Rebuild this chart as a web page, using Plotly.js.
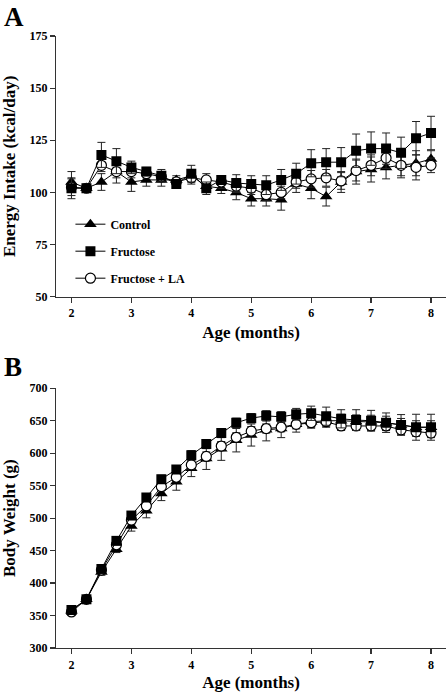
<!DOCTYPE html>
<html>
<head>
<meta charset="utf-8">
<script src="https://cdn.plot.ly/plotly-3.0.1.min.js"></script>
<style>html,body{margin:0;padding:0;background:#fff;}#chart{width:448px;height:692px;}</style>
</head>
<body>
<div id="chart"></div>
<script>
// Age in months
const ages = [2,2.25,2.5,2.75,3,3.25,3.5,3.75,4,4.25,4.5,4.75,5,5.25,5.5,5.75,6,6.25,6.5,6.75,7,7.25,7.5,7.75,8];

// Panel A: Energy intake (kcal/day)
const intakeControl  = [105,102,105,110,105,106,106,106,108,103,102,100,97,97,96.5,104,102,98,105,110,111,112,113,114,116];
const intakeControlErr = [5,1,4,5.5,4.5,3,3,2,3,3,2.5,3.5,3.5,3.5,5,4,5,4.5,5,6,6,5.5,6,6,4];
const intakeFructose = [102,102,118,115,112,110,108,104,109,102,106,104.5,104,103.5,106,109,114,114.5,114.5,120,121,121,119,126,128.5];
const intakeFructoseErr = [5,2,6,6,3,2,3,2,4,3,2,4,4,4.5,5,5,6.5,6.5,7,8,8,7.5,7.5,8,8];
const intakeLA       = [102.5,102,113,110,110,109,107.5,105,107,106,105,103,102,99,100,105,106.5,107,105.5,110.5,113,116.5,113,112,113];
const intakeLAErr = [4,1,3,3,3,2,2,2,3,3,3,3,3,3,3,3,4,4,4,5,5,5,5,6,3.5];

// Panel B: Body weight (g)
const weightControl  = [357.5,375,417,452,488,511.5,538,556,577,592,607,620,628,636,638,644.5,648.5,650,650,649,648.5,647,643.5,640,640];
const weightControlErr = [3,3,5,5,8,11,11,13,13,17,18,18,17,17,14,12,10,10,10,10,10,10,10,10,10];
const weightFructose = [358.5,375,421.7,465,504,531.6,560,575,597,614,631,647,654,657.5,656,660,661.5,657,653,651,650,647,643.5,640,640];
const weightFructoseErr = [3,3,4,5,6,6,6,6,7,7,7,7,7,8,8,9,11,14,14,16,16,15,16,20,20];
const weightLA       = [355.5,375,420,459,497,519,548.5,563,582,595,611,624.5,634,638,640,644.5,647,648.5,642,642,642,642,636,633,631];
const weightLAErr = [3,3,4,5,6,6,6,7,7,7,7,7,7,7,7,7,7,7,7,7,7,7,7,7,7];

const seriesNames = ['Control','Fructose','Fructose + LA'];

const FONT = 'Liberation Serif, Times New Roman, serif';
const lineStyle = {color:'#000', width:1};
function err(arr){ return {type:'data', array:arr, visible:true, color:'#222', thickness:1, width:4}; }
const mk = {
  control: {symbol:'triangle-up', size:11, color:'#000', line:{color:'#000', width:0}},
  fructose: {symbol:'square', size:10, color:'#000', line:{color:'#000', width:0}},
  la: {symbol:'circle', size:10, color:'#fff', line:{color:'#000', width:1.2}}
};

const traces = [
  {x:ages, y:intakeControl, name:seriesNames[0], legendgroup:'c', legendrank:1, mode:'lines+markers', line:lineStyle, marker:mk.control, error_y:err(intakeControlErr), xaxis:'x', yaxis:'y'},
  {x:ages, y:intakeLA, name:seriesNames[2], legendgroup:'l', legendrank:3, mode:'lines+markers', line:lineStyle, marker:mk.la, error_y:err(intakeLAErr), xaxis:'x', yaxis:'y'},
  {x:ages, y:intakeFructose, name:seriesNames[1], legendgroup:'f', legendrank:2, mode:'lines+markers', line:lineStyle, marker:mk.fructose, error_y:err(intakeFructoseErr), xaxis:'x', yaxis:'y'},
  {x:ages, y:weightControl, name:seriesNames[0], showlegend:false, mode:'lines+markers', line:lineStyle, marker:mk.control, error_y:err(weightControlErr), xaxis:'x2', yaxis:'y2'},
  {x:ages, y:weightLA, name:seriesNames[2], showlegend:false, mode:'lines+markers', line:lineStyle, marker:mk.la, error_y:err(weightLAErr), xaxis:'x2', yaxis:'y2'},
  {x:ages, y:weightFructose, name:seriesNames[1], showlegend:false, mode:'lines+markers', line:lineStyle, marker:mk.fructose, error_y:err(weightFructoseErr), xaxis:'x2', yaxis:'y2'}
];

const tickFont = {family:FONT, size:12, color:'#000', weight:'bold'};
const titleFont = {family:FONT, size:17, color:'#000', weight:'bold'};
const axCommon = {
  showgrid:false, zeroline:false, showline:true, linecolor:'#333', linewidth:1.2,
  ticks:'outside', ticklen:5, tickwidth:1.2, tickcolor:'#333', tickfont:tickFont
};
const xRange = [1.742, 8.25];

const layout = {
  width:448, height:692,
  margin:{l:55.5, r:2, t:0, b:0},
  paper_bgcolor:'#fff', plot_bgcolor:'#fff',
  font:{family:FONT, color:'#000'},
  showlegend:true,
  legend:{x:0.037, y:0.697, xanchor:'left', yanchor:'top', bgcolor:'rgba(0,0,0,0)', borderwidth:0,
          traceorder:'grouped', tracegroupgap:8, font:{family:FONT, size:12, color:'#000', weight:'bold'}},
  xaxis: Object.assign({}, axCommon, {domain:[0,1], anchor:'y', range:xRange, tickmode:'linear', tick0:2, dtick:1,
          title:{text:'Age (months)', font:titleFont, standoff:6}}),
  yaxis: Object.assign({}, axCommon, {domain:[0.5712,0.948], anchor:'x', range:[50,175], tickmode:'linear', tick0:50, dtick:25,
          title:{text:'Energy Intake (kcal/day)', font:titleFont, standoff:14}}),
  xaxis2: Object.assign({}, axCommon, {domain:[0,1], anchor:'y2', range:xRange, tickmode:'linear', tick0:2, dtick:1,
          title:{text:'Age (months)', font:titleFont, standoff:6}}),
  yaxis2: Object.assign({}, axCommon, {domain:[0.0636,0.4389], anchor:'x2', range:[300,700], tickmode:'linear', tick0:300, dtick:50,
          title:{text:'Body Weight (g)', font:titleFont, standoff:14}}),
  annotations:[
    {text:'A', xref:'paper', yref:'paper', x:-0.138, y:1.0, xanchor:'left', yanchor:'top', showarrow:false,
     font:{family:FONT, size:27, color:'#000', weight:'bold'}},
    {text:'B', xref:'paper', yref:'paper', x:-0.138, y:(692-350)/692, xanchor:'left', yanchor:'top', showarrow:false,
     font:{family:FONT, size:27, color:'#000', weight:'bold'}}
  ]
};

Plotly.newPlot('chart', traces, layout, {staticPlot:true, displayModeBar:false});
</script>
</body>
</html>
